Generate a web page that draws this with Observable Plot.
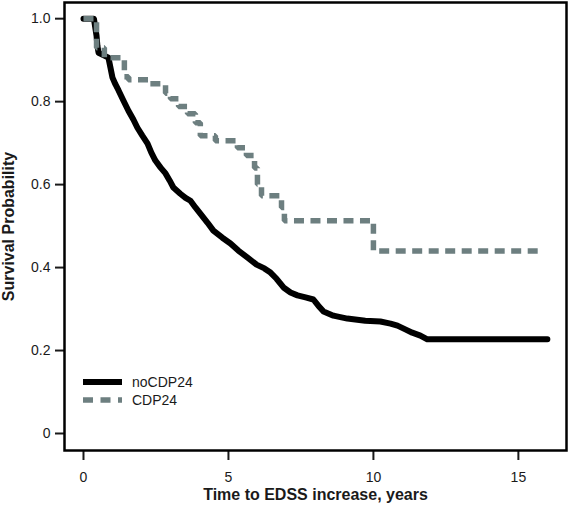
<!DOCTYPE html>
<html><head><meta charset="utf-8">
<script src="https://cdn.jsdelivr.net/npm/d3@7"></script>
<script src="https://cdn.jsdelivr.net/npm/@observablehq/plot@0.6"></script>
<style>
body{margin:0;background:#fff;font-family:"Liberation Sans",Arial,sans-serif;}
#wrap{position:relative;width:568px;height:505px;}
#legend{position:absolute;left:0;top:0;pointer-events:none;}
</style></head><body>
<div id="wrap"></div>
<script>
// noCDP24 Kaplan-Meier curve (time in years, survival probability)
const noCdpTime = [0,0.36,0.45,0.48,0.52,0.72,0.86,0.93,1.00,1.10,1.21,1.38,1.55,1.72,1.86,2.03,2.21,2.34,2.48,2.66,2.83,2.97,3.10,3.34,3.52,3.69,3.86,4.03,4.28,4.48,4.79,5.07,5.34,5.66,5.97,6.24,6.45,6.66,6.90,7.14,7.38,7.66,7.93,8.10,8.28,8.62,9.10,9.72,10.24,10.59,10.83,11.10,11.34,11.62,11.86,16.0];
const noCdpSurv = [1.0,1.0,0.959,0.935,0.918,0.911,0.906,0.882,0.858,0.842,0.827,0.802,0.778,0.757,0.737,0.718,0.699,0.677,0.658,0.641,0.627,0.610,0.593,0.578,0.568,0.561,0.545,0.530,0.508,0.489,0.472,0.458,0.441,0.424,0.407,0.398,0.388,0.373,0.352,0.340,0.333,0.328,0.323,0.308,0.294,0.284,0.277,0.272,0.270,0.265,0.260,0.251,0.243,0.236,0.227,0.227];
// CDP24 curve
const cdpTime = [0,0.45,0.72,1.41,1.55,2.28,2.83,3.00,3.28,3.59,3.86,4.03,4.55,5.31,5.62,5.90,6.00,6.14,6.83,6.93,10.0,15.83];
const cdpSurv = [1.0,0.93,0.906,0.86,0.853,0.843,0.82,0.807,0.788,0.771,0.749,0.718,0.706,0.689,0.67,0.64,0.60,0.573,0.545,0.513,0.44,0.44];

const xTicks = [0,5,10,15];
const yTicks = [0,0.2,0.4,0.6,0.8,1.0];
const xTitle = "Time to EDSS increase, years";
const yTitle = "Survival Probability";
const seriesNames = ["noCDP24","CDP24"];
const seriesColors = ["#000000","#6d7f80"];

const noCdp = noCdpTime.map((t,i)=>({time:t, surv:noCdpSurv[i]}));
const cdp = cdpTime.map((t,i)=>({time:t, surv:cdpSurv[i]}));

const font = "Liberation Sans, Arial, sans-serif";
const chart = Plot.plot({
  width:568, height:505,
  marginLeft:64, marginRight:2, marginTop:2, marginBottom:55,
  style:{fontFamily:font, fontSize:"14px", color:"#1a1a1a", background:"#fff", overflow:"visible"},
  x:{domain:[-0.655,16.66]},
  y:{domain:[-0.041,1.039]},
  marks:[
    Plot.axisY(yTicks,{tickFormat:d=>d===0?"0":d.toFixed(1), tickSize:9, tickPadding:5, strokeWidth:2, label:null, fontSize:14}),
    Plot.axisX(xTicks,{tickFormat:d=>String(d), tickSize:10, tickPadding:12, strokeWidth:2, label:null, fontSize:14}),
    Plot.text([yTitle],{frameAnchor:"left", rotate:-90, dx:-56, text:d=>d, fontWeight:"bold", fontSize:16, textAnchor:"middle", lineAnchor:"middle", fill:"#1a1a1a"}),
    Plot.text([xTitle],{frameAnchor:"bottom", dy:44, text:d=>d, fontWeight:"bold", fontSize:16, textAnchor:"middle", lineAnchor:"middle", fill:"#1a1a1a"}),
    Plot.line(noCdp,{x:"time", y:"surv", curve:"linear", stroke:seriesColors[0], strokeWidth:6, strokeLinejoin:"round"}),
    Plot.line(cdp,{x:"time", y:"surv", curve:"step-after", stroke:seriesColors[1], strokeWidth:5.5, strokeDasharray:"10,6.5", strokeLinecap:"butt", strokeLinejoin:"miter"}),
    Plot.frame({stroke:"#000", strokeWidth:2.5})
  ]
});
const wrap = document.getElementById("wrap");
wrap.appendChild(chart);

// legend overlay
const ns = "http://www.w3.org/2000/svg";
const leg = document.createElementNS(ns,"svg");
leg.setAttribute("id","legend");
leg.setAttribute("width","568");
leg.setAttribute("height","505");
const rows = [
  {y:382, dash:null, w:6},
  {y:400, dash:"10,7.5", w:5.5}
];
seriesNames.forEach((name,i)=>{
  const r = rows[i];
  const ln = document.createElementNS(ns,"line");
  ln.setAttribute("x1",83); ln.setAttribute("x2",122);
  ln.setAttribute("y1",r.y); ln.setAttribute("y2",r.y);
  ln.setAttribute("stroke",seriesColors[i]);
  ln.setAttribute("stroke-width",r.w);
  if (r.dash) ln.setAttribute("stroke-dasharray",r.dash);
  leg.appendChild(ln);
  const tx = document.createElementNS(ns,"text");
  tx.setAttribute("x",132); tx.setAttribute("y",r.y+5);
  tx.setAttribute("font-family",font);
  tx.setAttribute("font-size","14");
  tx.setAttribute("fill","#1a1a1a");
  tx.textContent = name;
  leg.appendChild(tx);
});
wrap.appendChild(leg);
</script>
</body></html>
